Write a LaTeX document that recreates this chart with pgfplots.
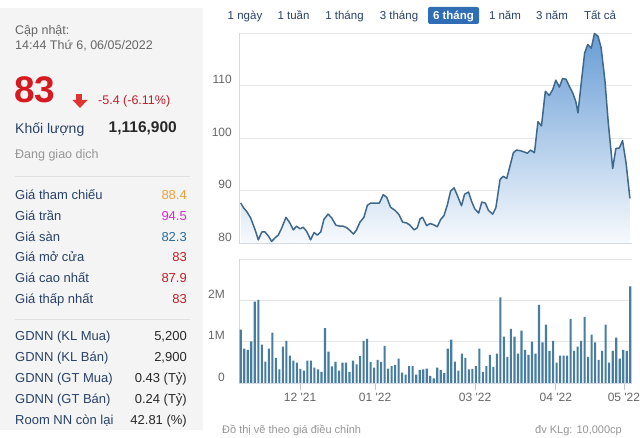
\documentclass[border=0pt]{standalone}
\usepackage{fontspec}
\setmainfont{Liberation Sans}[Ligatures=TeXOff]
\usepackage{pgfplots}
\usepackage{pgfplotstable}
\pgfplotsset{compat=1.18}

\definecolor{panelgray}{RGB}{244,244,244}
\definecolor{sepgray}{RGB}{224,224,224}
\definecolor{navy}{RGB}{40,66,104}
\definecolor{bigred}{RGB}{214,26,32}
\definecolor{chgred}{RGB}{190,32,45}
\definecolor{valred}{RGB}{196,30,40}
\definecolor{refor}{RGB}{240,162,62}
\definecolor{ceilmag}{RGB}{208,48,208}
\definecolor{floorblue}{RGB}{38,108,158}
\definecolor{darktxt}{RGB}{40,40,40}
\definecolor{softgray}{RGB}{150,150,150}
\definecolor{labgray}{RGB}{102,102,102}
\definecolor{btnblue}{RGB}{47,109,181}
\definecolor{gridgray}{RGB}{230,230,230}
\definecolor{axgray}{RGB}{212,218,228}
\definecolor{linecol}{RGB}{62,104,140}
\definecolor{areatop}{RGB}{104,157,214}
\definecolor{areabot}{RGB}{247,250,253}
\definecolor{volcol}{RGB}{70,125,160}
\definecolor{arrowred}{RGB}{222,52,52}

\newcommand{\fs}[1]{\fontsize{#1bp}{#1bp}\selectfont}

% price, x = trading day index
\pgfplotstableread{
x y
0.0 87.6
0.8 86.7
1.7 86.0
2.8 84.8
4.1 82.5
5.0 80.6
6.0 82.1
6.9 82.1
7.9 81.3
8.8 80.3
9.8 81.0
10.7 81.5
11.7 82.9
12.9 84.9
14.0 83.8
15.0 82.5
15.9 83.2
16.9 82.7
17.8 83.0
18.8 82.2
19.9 80.6
20.9 82.0
21.8 81.5
22.8 82.1
23.7 84.5
24.9 85.5
25.9 84.8
27.1 83.4
28.3 83.2
29.2 83.2
30.2 82.9
31.1 82.4
32.1 81.7
33.0 82.5
34.0 84.0
35.1 84.9
36.1 87.2
37.0 87.6
38.3 87.6
39.5 87.6
40.6 89.2
41.6 88.7
42.7 86.8
44.0 86.2
45.1 85.4
46.1 84.0
47.3 83.8
48.2 83.4
49.4 82.5
50.3 82.9
51.1 84.6
51.8 84.9
53.0 83.3
53.9 83.7
54.9 83.5
56.0 83.1
57.0 84.5
57.9 85.2
58.9 87.3
59.8 89.9
60.8 90.5
61.7 89.1
62.9 87.1
63.8 89.3
64.9 89.7
65.8 87.9
66.7 86.5
67.8 85.7
68.7 87.8
69.7 87.6
70.6 86.2
71.8 85.5
72.7 86.7
73.9 92.1
74.8 92.7
75.8 92.3
76.7 94.6
77.7 97.2
78.6 97.7
79.6 97.6
80.5 97.4
81.7 97.1
82.6 97.7
83.7 97.2
84.7 103.1
85.7 102.3
86.8 108.9
87.9 108.1
88.9 109.2
89.8 111.0
90.8 109.7
91.7 111.3
92.7 111.2
93.6 109.9
94.6 108.6
95.5 106.9
96.1 104.8
97.0 110.3
98.0 116.2
98.9 117.8
99.9 117.1
100.8 119.9
101.8 119.4
102.7 117.2
103.8 110.8
104.7 103.2
106.0 94.2
106.9 98.0
107.9 98.1
108.8 99.5
109.8 95.3
110.9 88.5
}\pricetable

% volume in millions
\pgfplotstableread{
x v
0 1.29
1 0.83
2 0.80
3 1.01
4 1.97
5 2.01
6 0.93
7 0.52
8 0.83
9 1.22
10 0.61
11 0.33
12 0.88
13 1.02
14 0.66
15 0.54
16 0.49
17 0.34
18 0.30
19 0.54
20 0.54
21 0.37
22 0.33
23 0.27
24 1.33
25 0.76
26 0.40
27 0.51
28 0.30
29 0.49
30 0.49
31 0.27
32 0.54
33 0.45
34 0.65
35 1.02
36 1.07
37 0.51
38 0.37
39 0.56
40 0.51
41 0.90
42 0.35
43 0.41
44 0.44
45 0.59
46 0.25
47 0.20
48 0.41
49 0.41
50 0.20
51 0.32
52 0.33
53 0.35
54 0.17
55 0.11
56 0.37
57 0.32
58 0.24
59 0.83
60 1.05
61 0.52
62 0.30
63 0.71
64 0.61
65 0.33
66 0.34
67 0.41
68 0.83
69 0.27
70 0.41
71 0.68
72 0.39
73 0.71
74 2.07
75 1.12
76 0.63
77 1.31
78 1.12
79 0.71
80 1.27
81 0.80
82 0.68
83 1.00
84 0.71
85 1.89
86 0.98
87 1.41
88 0.78
89 1.02
90 0.49
91 0.66
92 0.66
93 0.66
94 1.55
95 0.78
96 0.88
97 1.02
98 1.60
99 0.63
100 1.17
101 0.98
102 0.56
103 0.78
104 1.41
105 0.49
106 0.78
107 1.10
108 0.59
109 0.80
110 0.78
111 2.34
}\voltable

\pgfplotsset{
  stockaxis/.style={
    scale only axis, anchor=south west,
    width=393bp,
    xmin=-0.5, xmax=111.5,
    axis lines*=left,
    axis line style={draw=axgray, line width=0.8bp},
    ymajorgrids,
    major grid style={draw=gridgray, line width=0.8bp},
    ytick style={draw=none},
    yticklabel style={font=\fs{12}, text=labgray, anchor=east, inner sep=0pt, xshift=-7bp, yshift=6bp},
  },
}

\begin{document}
\begin{tikzpicture}
\fill[white] (0,0) rectangle (640bp,438bp);
\path[use as bounding box] (0,0) rectangle (640bp,438bp);

% left info panel
\fill[panelgray] (0,8bp) rectangle (203bp,430bp);
\node[anchor=base west, inner sep=0, text=labgray, font=\fs{12.5}] at (15bp,403bp) {Cập nhật:};
\node[anchor=base west, inner sep=0, text=labgray, font=\fs{12.5}] at (15bp,388bp) {14:44 Thứ 6, 06/05/2022};
\node[anchor=base west, inner sep=0, text=bigred, font=\fs{37}\bfseries] at (14bp,335bp) {83};
\fill[arrowred] (76bp,337bp) rectangle (82bp,344bp);
\fill[arrowred] (72.5bp,338bp) -- (87.5bp,338bp) -- (80bp,330bp) -- cycle;
\node[anchor=base west, inner sep=0, text=chgred, font=\fs{12.5}] at (98bp,333bp) {-5.4 (-6.11\%)};
\node[anchor=base west, inner sep=0, text=navy, font=\fs{14}] at (15bp,304bp) {Khối lượng};
\node[anchor=base east, inner sep=0, text=darktxt, font=\fs{15.5}\bfseries] at (177bp,305bp) {1,116,900};
\node[anchor=base west, inner sep=0, text=softgray, font=\fs{12.5}] at (15bp,279bp) {Đang giao dịch};
\draw[sepgray, line width=0.8bp] (15bp,262bp) -- (190bp,262bp);
\draw[sepgray, line width=0.8bp] (15bp,119bp) -- (190bp,119bp);

\foreach \lab/\val/\col/\yy in {
  Giá tham chiếu/88.4/refor/238,
  Giá trần/94.5/ceilmag/217,
  Giá sàn/82.3/floorblue/196,
  Giá mở cửa/83/valred/176,
  Giá cao nhất/87.9/valred/155,
  Giá thấp nhất/83/valred/134,
  GDNN (KL Mua)/{5,200}/darktxt/97,
  GDNN (KL Bán)/{2,900}/darktxt/76,
  GDNN (GT Mua)/0.43 (Tỷ)/darktxt/55,
  GDNN (GT Bán)/0.24 (Tỷ)/darktxt/35,
  Room NN còn lại/42.81 (\%)/darktxt/14}{
  \node[anchor=base west, inner sep=0, text=navy, font=\fs{13}] at (15bp,\yy bp) {\lab};
  \node[anchor=base east, inner sep=0, text=\col, font=\fs{13}] at (187bp,\yy bp) {\val};
}

% range buttons
\fill[btnblue, rounded corners=2bp] (428bp,414bp) rectangle (479bp,431bp);
\foreach \t/\xx in {1 ngày/245, 1 tuần/293.5, 1 tháng/344.5, 3 tháng/399, 1 năm/505, 3 năm/552, Tất cả/600}{
  \node[anchor=base, inner sep=0, text=navy, font=\fs{11.5}] at (\xx bp,418bp) {\t};
}
\node[anchor=base, inner sep=0, text=white, font=\fs{11.5}\bfseries] at (453.5bp,418bp) {6 tháng};

% price chart, plotted as price-80 so the area closes at the bottom edge
\begin{axis}[stockaxis, at={(239bp,195bp)}, height=210bp,
  ymin=0, ymax=40,
  ytick={0,10,20,30,40}, yticklabels={80,90,100,110,{}},
  xtick=\empty]
  \addplot[top color=areatop, bottom color=areabot, draw=none]
    table[x=x, y expr=\thisrow{y}-80] {\pricetable} \closedcycle;
  \addplot[draw=linecol, line width=1.5bp, line join=round]
    table[x=x, y expr=\thisrow{y}-80] {\pricetable};
\end{axis}

% volume chart
\begin{axis}[stockaxis, at={(239bp,55bp)}, height=124bp,
  ymin=0, ymax=3,
  ytick={0,1,2,3}, yticklabels={0,1M,2M,{}},
  xtick={16.9,38.3,66.8,89.8,109.2},
  xticklabels={12 '21,01 '22,03 '22,04 '22,05 '22},
  tick align=outside, major tick length=7bp,
  xtick style={draw=axgray!80!gray, line width=0.8bp},
  xticklabel style={font=\fs{12}, text=labgray, anchor=north, inner sep=0pt, yshift=-3bp}]
  \addplot[ybar, bar width=2.1bp, fill=volcol, draw=none] table[x=x, y=v] {\voltable};
\end{axis}

% footnotes
\node[anchor=base west, inner sep=0, text=softgray, font=\fs{11}] at (222bp,5bp) {Đồ thị vẽ theo giá điều chỉnh};
\node[anchor=base east, inner sep=0, text=softgray, font=\fs{11}] at (622bp,5bp) {đv KLg: 10,000cp};
\end{tikzpicture}
\end{document}
